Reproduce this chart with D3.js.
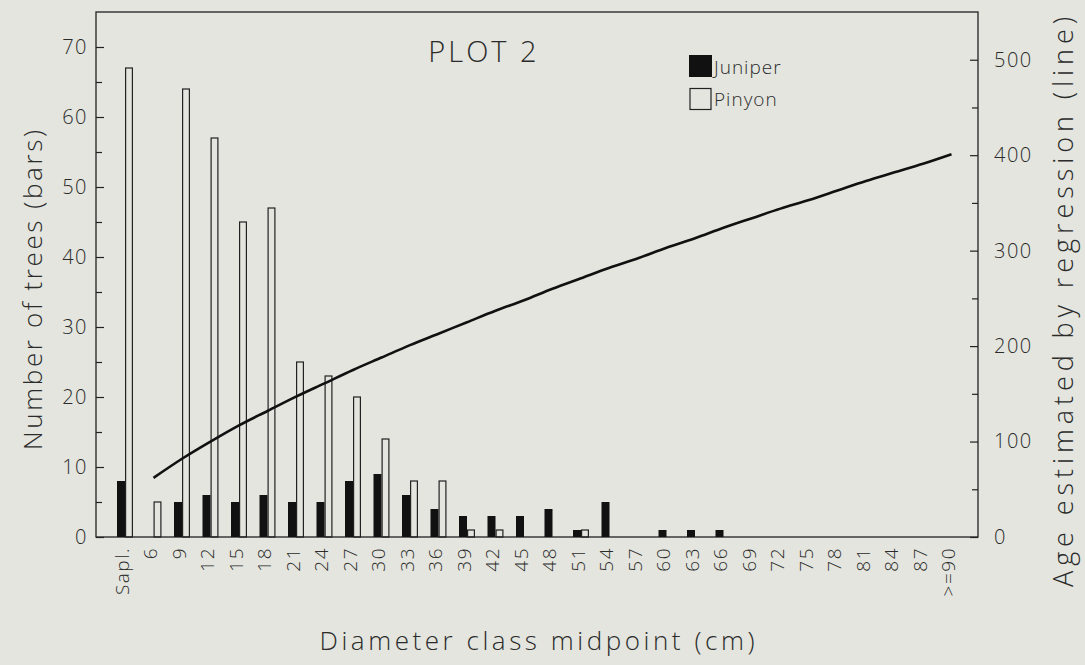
<!DOCTYPE html>
<html>
<head>
<meta charset="utf-8">
<script src="https://cdn.jsdelivr.net/npm/d3@7"></script>
<style>
  html, body { margin: 0; padding: 0; background: #e3e5de; }
  svg { display: block; }
  text { font-family: "Open Sans", "Liberation Sans", sans-serif; font-weight: 300; fill: #2b2b2b; }
</style>
</head>
<body>
<svg id="chart" width="1085" height="665"></svg>
<script>
// ---- data ----
const categories = ["Sapl.","6","9","12","15","18","21","24","27","30","33","36","39","42","45","48","51","54","57","60","63","66","69","72","75","78","81","84","87",">=90"];
const juniper = [8,0,5,6,5,6,5,5,8,9,6,4,3,3,3,4,1,5,0,1,1,1,0,0,0,0,0,0,0,0];
const pinyon  = [67,5,64,57,45,47,25,23,20,14,8,8,1,1,0,0,1,0,0,0,0,0,0,0,0,0,0,0,0,0];
const ageCategories = categories.slice(1);
const ageValues = [62,82,100,117,132,147,161,175,188,201,213,225,237,248,260,271,282,292,303,313,324,334,344,353,363,373,382,391,401];
const leftTicks = [0,10,20,30,40,50,60,70];
const leftMinor = [5,15,25,35,45,55,65];
const rightTicks = [0,100,200,300,400,500];
const rightMinor = [50,150,250,350,450];

const svg = d3.select("#chart");
const W = 1085, H = 665;
const frame = {left: 96, right: 978, top: 12, bottom: 537};
const ink = "#222";

svg.append("rect").attr("width", W).attr("height", H).attr("fill", "#e3e5de");

const x = d3.scaleBand().domain(categories).range([110.75, 965.75]).padding(0);
const yL = d3.scaleLinear().domain([0, 75]).range([frame.bottom, frame.top]);
const yR = d3.scaleLinear().domain([0, 550]).range([frame.bottom, frame.top]);
const cx = c => x(c) + x.bandwidth() / 2;
const barW = 8;

// frame
svg.append("rect")
  .attr("x", frame.left).attr("y", frame.top)
  .attr("width", frame.right - frame.left).attr("height", frame.bottom - frame.top)
  .attr("fill", "none").attr("stroke", ink).attr("stroke-width", 1.3);

// left axis
const gL = svg.append("g").attr("transform", `translate(${frame.left},0)`)
  .call(d3.axisLeft(yL).tickValues(leftTicks).tickSize(-8).tickPadding(8));
const gLm = svg.append("g").attr("transform", `translate(${frame.left},0)`)
  .call(d3.axisLeft(yL).tickValues(leftMinor).tickSize(-6).tickFormat(""));
// right axis
const gR = svg.append("g").attr("transform", `translate(${frame.right},0)`)
  .call(d3.axisRight(yR).tickValues(rightTicks).tickSize(-8).tickPadding(16));
const gRm = svg.append("g").attr("transform", `translate(${frame.right},0)`)
  .call(d3.axisRight(yR).tickValues(rightMinor).tickSize(-6).tickFormat(""));
// bottom axis
const gB = svg.append("g").attr("transform", `translate(0,${frame.bottom})`)
  .call(d3.axisBottom(x).tickSize(0).tickPadding(0));

[gL, gLm, gR, gRm, gB].forEach(g => {
  g.select(".domain").remove();
  g.selectAll("line").attr("stroke", ink).attr("stroke-width", 1.2);
  g.selectAll("text").style("font-size", "20px").style("letter-spacing", "1.5px").attr("fill", "#2b2b2b");
});
gB.selectAll(".tick text")
  .attr("transform", "rotate(-90)")
  .attr("text-anchor", "end")
  .attr("x", -10).attr("y", -3).attr("dy", "0.35em")
  .style("font-size", "19px").style("letter-spacing", "1.5px");

// bars
svg.append("g").selectAll("rect")
  .data(categories.map((c, i) => ({c, v: juniper[i]})).filter(d => d.v > 0))
  .join("rect")
  .attr("x", d => cx(d.c) - barW).attr("width", barW)
  .attr("y", d => yL(d.v)).attr("height", d => yL(0) - yL(d.v))
  .attr("fill", "#111");

svg.append("g").selectAll("rect")
  .data(categories.map((c, i) => ({c, v: pinyon[i]})).filter(d => d.v > 0))
  .join("rect")
  .attr("x", d => cx(d.c) + 0.6).attr("width", barW - 1.2)
  .attr("y", d => yL(d.v)).attr("height", d => yL(0) - yL(d.v))
  .attr("fill", "none").attr("stroke", ink).attr("stroke-width", 1.2);

// regression line
const line = d3.line().x(d => cx(d.c)).y(d => yR(d.v)).curve(d3.curveMonotoneX);
svg.append("path")
  .datum(ageCategories.map((c, i) => ({c, v: ageValues[i]})))
  .attr("d", line).attr("fill", "none").attr("stroke", "#111").attr("stroke-width", 2.6);

// title
svg.append("text").attr("x", 484).attr("y", 62).attr("text-anchor", "middle")
  .style("font-size", "29px").style("letter-spacing", "3px").text("PLOT 2");

// legend
svg.append("rect").attr("x", 689).attr("y", 55).attr("width", 23).attr("height", 22).attr("fill", "#111");
svg.append("text").attr("x", 714).attr("y", 74).style("font-size", "19px").style("letter-spacing", "1px").text("Juniper");
svg.append("rect").attr("x", 690).attr("y", 88.5).attr("width", 21).attr("height", 21)
  .attr("fill", "none").attr("stroke", ink).attr("stroke-width", 1.2);
svg.append("text").attr("x", 714).attr("y", 106).style("font-size", "19px").style("letter-spacing", "1px").text("Pinyon");

// axis titles
svg.append("text").attr("transform", "translate(42,290) rotate(-90)").attr("text-anchor", "middle")
  .attr("textLength", 320).attr("lengthAdjust", "spacing")
  .style("font-size", "26px").text("Number of trees (bars)");
svg.append("text").attr("transform", "translate(1073,302) rotate(-90)").attr("text-anchor", "middle")
  .attr("textLength", 570).attr("lengthAdjust", "spacing")
  .style("font-size", "27px").text("Age estimated by regression (line)");
svg.append("text").attr("x", 537).attr("y", 650).attr("text-anchor", "middle")
  .attr("textLength", 435).attr("lengthAdjust", "spacing")
  .style("font-size", "26px").text("Diameter class midpoint (cm)");
</script>
</body>
</html>
